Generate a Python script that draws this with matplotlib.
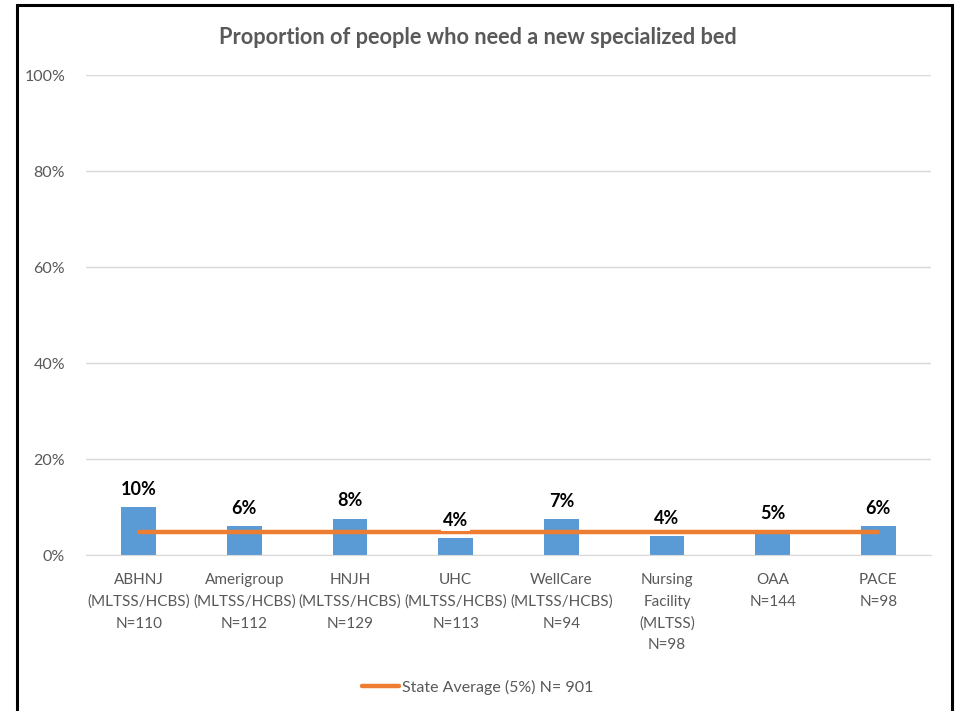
import matplotlib
matplotlib.use("Agg")
import matplotlib.pyplot as plt
from matplotlib.patches import Rectangle
from matplotlib.ticker import PercentFormatter

# chart data
CATEGORIES = [
    "ABHNJ\n(MLTSS/HCBS)\nN=110",
    "Amerigroup\n(MLTSS/HCBS)\nN=112",
    "HNJH\n(MLTSS/HCBS)\nN=129",
    "UHC\n(MLTSS/HCBS)\nN=113",
    "WellCare\n(MLTSS/HCBS)\nN=94",
    "Nursing\nFacility\n(MLTSS)\nN=98",
    "OAA\nN=144",
    "PACE\nN=98",
]
VALUES = [0.100, 0.061, 0.076, 0.036, 0.074, 0.040, 0.049, 0.060]
STATE_AVG = 0.048
STATE_LABEL = "State Average (5%) N= 901"
TITLE = "Proportion of people who need a new specialized bed"

BAR_COLOR = "#5B9BD5"
LINE_COLOR = "#ED7D31"
TEXT_GRAY = "#595959"
GRID_GRAY = "#D9D9D9"

plt.rcParams["font.family"] = ["Lato", "DejaVu Sans"]

fig = plt.figure(figsize=(9.55, 7.11), dpi=100)
ax = fig.add_axes([0.090, 0.2194, 0.885, 0.6751])

x = list(range(len(CATEGORIES)))
ax.bar(x, VALUES, width=0.33, color=BAR_COLOR, zorder=2)
ax.plot(x, [STATE_AVG] * len(x), color=LINE_COLOR, lw=3.2, zorder=3,
        solid_capstyle="round", label=STATE_LABEL)

for xi, v in zip(x, VALUES):
    ax.annotate(f"{v:.0%}", (xi, v), xytext=(0, 6.5), textcoords="offset points",
                ha="center", va="bottom", fontsize=13, fontweight="bold",
                color="black", zorder=4,
                bbox=dict(boxstyle="square,pad=0.1", fc="white", ec="none"))

ax.set_xlim(-0.5, len(x) - 0.5)
ax.set_ylim(0, 1)
ax.set_yticks([0, 0.2, 0.4, 0.6, 0.8, 1.0])
ax.yaxis.set_major_formatter(PercentFormatter(1.0, decimals=0))
ax.set_xticks(x)
ax.set_xticklabels(CATEGORIES, linespacing=1.68)
ax.tick_params(axis="both", length=0, labelsize=11, colors=TEXT_GRAY)
ax.tick_params(axis="x", pad=13)
ax.tick_params(axis="y", labelsize=11.5, pad=15)
ax.grid(axis="y", color=GRID_GRAY, lw=1, zorder=0)
for side in ["top", "right", "left"]:
    ax.spines[side].set_visible(False)
ax.spines["bottom"].set_color(GRID_GRAY)

fig.text(0.5, 1 - 37 / 711, TITLE, ha="center", va="center",
         fontsize=15.7, fontweight="bold", color=TEXT_GRAY)

leg = fig.legend(loc="center", bbox_to_anchor=(0.5, 1 - 687 / 711),
                 frameon=False, fontsize=11.5, handlelength=2.3,
                 handletextpad=0.2)
for t in leg.get_texts():
    t.set_color(TEXT_GRAY)

# black frame around the chart
fig.patches.append(Rectangle((17 / 955, -0.02), 935 / 955, 1.02 - 5 / 711,
                             transform=fig.transFigure, fill=False,
                             ec="black", lw=2.2))

fig.savefig("out.png", dpi=100)
